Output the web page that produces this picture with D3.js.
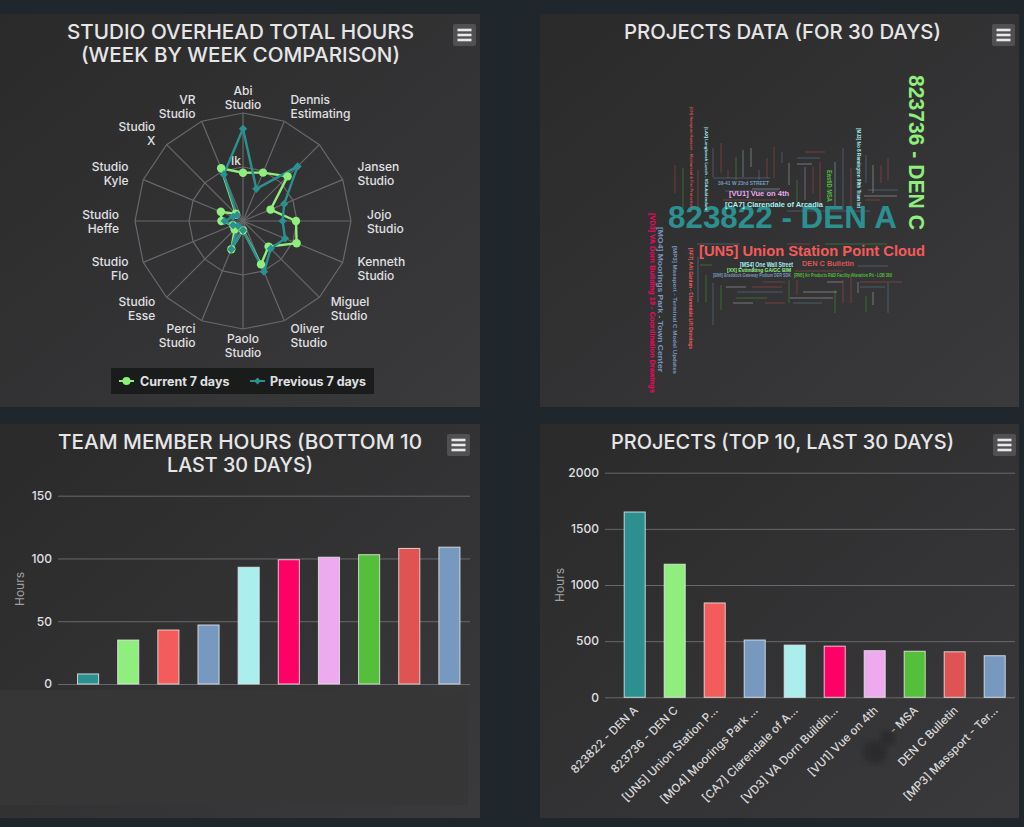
<!DOCTYPE html>
<html>
<head>
<meta charset="utf-8">
<script src="https://d3js.org/d3.v7.min.js"></script>
<style>
  html, body { margin: 0; padding: 0; background: #20272c; overflow: hidden; }
  svg { display: block; }
  text { font-family: Inter, "Open Sans", sans-serif; }
</style>
</head>
<body>
<svg id="chart" width="1024" height="827"></svg>
<script>
// radar chart data
const studios = [["Abi", "Studio"], ["Dennis", "Estimating"], ["", ""], ["Jansen", "Studio"], ["Jojo", "Studio"],
    ["Kenneth", "Studio"], ["Miguel", "Studio"], ["Oliver", "Studio"], ["Paolo", "Studio"], ["Perci", "Studio"],
    ["Studio", "Esse"], ["Studio", "Flo"], ["Studio", "Heffe"], ["Studio", "Kyle"], ["Studio", "X"], ["VR", "Studio"]];
const currentWeek = [894, 970, 1168, 552, 981, 1075, 670, 870, 170, 565, 220, 200, 400, 444, 190, 1058];
const previousWeek = [1708, 645, 1430, 825, 733, 843, 725, 1016, 170, 565, 130, 200, 340, 200, 155, 933];

// bar chart data
const palette = ["#2b908f", "#90ee7e", "#f45b5b", "#7798BF", "#aaeeee", "#ff0066", "#eeaaee", "#55BF3B", "#DF5353", "#7798BF"];
const memberHours = [8, 35, 43, 47, 93, 99, 101, 103, 108, 109];
const memberTicks = [0, 50, 100, 150];
const projectNames = ["823822 - DEN A", "823736 - DEN C", "[UN5] Union Station P…", "[MO4] Moorings Park …", "[CA7] Clarendale of A…",
    "[VD3] VA Dorn Buildin…", "[VU1] Vue on 4th", "- MSA", "DEN C Bulletin", "[MP3] Massport - Ter…"];
const projectHours = [1650, 1185, 840, 510, 465, 455, 415, 410, 405, 370];
const projectTicks = [0, 500, 1000, 1500, 2000];

// word cloud data
const cloudWords = ["823822 - DEN A", "823736 - DEN C", "[UN5] Union Station Point Cloud", "[VD3] VA Dorn Building 19 - Coordination Drawings",
    "[MO4] Moorings Park - Town Center", "[MP3] Massport - Terminal C Model Updates", "[AF7] AAI Garden - Clarendale Lift Drawings",
    "[VU1] Vue on 4th", "[CA7] Clarendale of Arcadia", "39-41 W 23rd STREET", "EastID MSA", "[MJ3] No 8 Remington 99th Tram Int",
    "[CH] Hampton Hanover - Mechanical & Fire Protection", "[LAX] Longbeach Lunch - VDA Addendum", "[MS4] One Wall Street", "DEN C Bulletin",
    "[XX] Estimating GA/GC BIM", "[BN6] Braddock Gateway Podium DER SDK", "[RN5] Air Products R&D Facility Alteration Pit - LOB 360"];
const cloudHours = [1650, 1185, 840, 330, 400, 220, 220, 370, 350, 220, 300, 170, 100, 140, 290, 400, 280, 170, 180];

// where each word of the cloud landed, and the words too small to read (x1, y1, x2, y2, colour)
const cloudPlaces = [[668, 228, 0, 229, 0], [909, 75, 90, 155, 1], [699, 256, 0, 226, 2], [650, 213, 90, 180, 5], [658, 227, 90, 145, 3],
    [673, 246, 90, 128, 3], [689, 248, 90, 101, 2], [729, 196, 0, 60, 6], [725, 207, 0, 98, 4], [718, 185, 0, 51, 3], [827, 170, 90, 32, 7],
    [857, 128, 90, 80, 4], [690, 107, 90, 101, 8], [705, 127, 90, 83, 4], [740, 267, 0, 53, 4], [802, 266, 0, 52, 8], [727, 272, 0, 64, 1],
    [713, 277, 0, 78, 3], [794, 277, 0, 98, 7]];
const cloudTiny = [[675, 165, 675, 193, 8], [683, 168, 683, 208, 7], [698, 170, 698, 210, 8], [713, 148, 713, 177, 3], [721, 143, 721, 173, 8],
    [728, 170, 728, 178, 8], [736, 157, 736, 180, 7], [743, 150, 743, 177, 4], [751, 148, 751, 167, 9], [759, 170, 759, 180, 3], [767, 158, 767, 178, 8],
    [774, 147, 774, 178, 8], [782, 152, 782, 163, 3], [789, 163, 789, 185, 9], [797, 180, 797, 202, 7], [805, 167, 805, 200, 6], [813, 167, 813, 193, 8],
    [820, 162, 820, 203, 8], [835, 162, 835, 207, 4], [843, 148, 843, 210, 3], [851, 168, 851, 210, 8], [866, 155, 866, 183, 3], [873, 165, 873, 193, 9],
    [881, 165, 881, 183, 8], [888, 158, 888, 180, 8], [805, 152, 825, 152, 8], [797, 158, 820, 158, 3], [797, 164, 812, 164, 9], [713, 178, 770, 178, 3],
    [752, 189, 780, 189, 9], [725, 191, 778, 191, 3], [723, 200, 778, 200, 8], [868, 190, 898, 190, 3], [864, 196, 897, 196, 9], [865, 200, 880, 200, 8],
    [787, 211, 870, 211, 3], [697, 244, 740, 244, 3], [787, 244, 810, 244, 8], [825, 244, 887, 244, 7], [700, 265, 712, 265, 7], [858, 266, 888, 266, 3],
    [795, 271, 843, 271, 8], [763, 282, 785, 282, 8], [827, 282, 843, 282, 9], [860, 282, 902, 282, 8], [726, 287, 746, 287, 9], [752, 287, 782, 287, 8],
    [860, 287, 885, 287, 3], [803, 292, 837, 292, 9], [737, 292, 783, 292, 3], [736, 298, 767, 298, 7], [790, 298, 833, 298, 9], [733, 303, 753, 303, 9],
    [765, 303, 785, 303, 8], [793, 303, 822, 303, 3], [698, 257, 698, 302, 3], [706, 275, 706, 302, 7], [713, 283, 713, 325, 3], [721, 285, 721, 310, 7],
    [789, 280, 789, 303, 7], [797, 280, 797, 295, 8], [835, 290, 835, 313, 7], [843, 280, 843, 303, 8], [851, 275, 851, 303, 8], [858, 282, 858, 293, 9],
    [866, 296, 866, 312, 7], [873, 292, 873, 305, 9], [888, 283, 888, 313, 3]];
const tinyColors = [...palette.slice(0, 9), "#e8e8e8"];

const labelFill = "#e0e0e3";
const gridColor = "#68686a";
const svg = d3.select("#chart");

// panel background gradient
const grad = svg.append("defs").append("linearGradient").attr("id", "panelBg")
    .attr("x1", 0).attr("y1", 0).attr("x2", 1).attr("y2", 1);
grad.append("stop").attr("offset", "0%").attr("stop-color", "#2a2a2b");
grad.append("stop").attr("offset", "100%").attr("stop-color", "#3a3a3c");
svg.select("defs").append("filter").attr("id", "blot").append("feGaussianBlur").attr("stdDeviation", 3);

// draw a panel with its title lines and menu button
function buildPanel(x, y, w, h, titleX, titleY, titles, widths, btnX, btnY) {
    svg.append("rect").attr("x", x).attr("y", y).attr("width", w).attr("height", h).attr("fill", "url(#panelBg)");
    titles.forEach((line, i) => {
        svg.append("text").attr("x", titleX).attr("y", titleY + i * 23)
            .attr("text-anchor", "middle").attr("font-size", 20).attr("font-weight", 500)
            .attr("textLength", widths[i]).attr("lengthAdjust", "spacingAndGlyphs")
            .attr("fill", "#e6e6e6").text(line);
    });
    svg.append("rect").attr("x", btnX).attr("y", btnY).attr("width", 23).attr("height", 22).attr("rx", 2).attr("fill", "#505053");
    [6, 11, 16].forEach(d => {
        svg.append("line").attr("x1", btnX + 4.5).attr("x2", btnX + 18.5).attr("y1", btnY + d).attr("y2", btnY + d)
            .attr("stroke", "#e8e8e8").attr("stroke-width", 2.6);
    });
}

buildPanel(0, 14, 480, 393, 240.5, 39, ["STUDIO OVERHEAD TOTAL HOURS", "(WEEK BY WEEK COMPARISON)"], [347, 319], 453, 24);
buildPanel(540, 14, 479, 393, 782.5, 39, ["PROJECTS DATA (FOR 30 DAYS)"], [317], 992, 24);
buildPanel(0, 424, 480, 394, 240, 449, ["TEAM MEMBER HOURS (BOTTOM 10", "LAST 30 DAYS)"], [364, 146], 447, 434);
buildPanel(540, 424, 479, 394, 782.5, 449, ["PROJECTS (TOP 10, LAST 30 DAYS)"], [343], 993, 434);

// patch that hides the names under the bottom left chart
svg.append("rect").attr("x", 0).attr("y", 690).attr("width", 468).attr("height", 115).attr("fill", "#363637");

// radar chart
function buildRadar(cx, cy) {
    const g = svg.append("g").attr("transform", `translate(${cx},${cy})`);
    const r = d3.scaleLinear().domain([0, 2000]).range([0, 108]);
    const angle = d3.scaleLinear().domain([0, studios.length]).range([0, 2 * Math.PI]);
    const radial = d3.lineRadial().radius(d => r(d)).angle((d, i) => angle(i)).curve(d3.curveLinearClosed);

    [1000, 2000].forEach(v => {
        g.append("path").attr("d", radial(studios.map(() => v))).attr("fill", "none").attr("stroke", gridColor).attr("stroke-width", 1.2);
    });
    studios.forEach((s, i) => {
        const a = angle(i);
        g.append("line").attr("x2", r(2000) * Math.sin(a)).attr("y2", -r(2000) * Math.cos(a))
            .attr("stroke", gridColor).attr("stroke-width", 1.2);
        // category labels sit just outside the outer ring
        const lx = (r(2000) + 16) * Math.sin(a);
        const ly = -(r(2000) + 16) * Math.cos(a);
        const anchor = Math.abs(Math.sin(a)) < 0.01 ? "middle" : (Math.sin(a) > 0 ? "start" : "end");
        const label = g.append("text").attr("text-anchor", anchor).attr("font-size", 12).attr("font-weight", 500).attr("fill", labelFill);
        s.forEach((line, k) => {
            label.append("tspan").attr("x", lx).attr("y", ly + (k === 0 ? -2.5 : 11.5)).text(line);
        });
    });

    g.append("text").attr("x", -8).attr("y", -r(1000) - 2).attr("text-anchor", "middle")
        .attr("font-size", 12).attr("font-weight", 500).attr("fill", labelFill).text("1k");
    g.append("text").attr("x", -7).attr("y", -2).attr("text-anchor", "middle")
        .attr("font-size", 12).attr("font-weight", 500).attr("fill", labelFill).text("0");

    g.append("path").attr("d", radial(currentWeek)).attr("fill", "none").attr("stroke", palette[1]).attr("stroke-width", 2.4);
    g.append("path").attr("d", radial(previousWeek)).attr("fill", "none").attr("stroke", palette[0]).attr("stroke-width", 2.4);

    currentWeek.forEach((v, i) => {
        const a = angle(i);
        g.append("circle").attr("cx", r(v) * Math.sin(a)).attr("cy", -r(v) * Math.cos(a)).attr("r", 4.2).attr("fill", palette[1]);
    });
    const diamond = d3.symbol().type(d3.symbolSquare).size(34);
    previousWeek.forEach((v, i) => {
        const a = angle(i);
        g.append("path").attr("d", diamond())
            .attr("transform", `translate(${r(v) * Math.sin(a)},${-r(v) * Math.cos(a)}) rotate(45)`)
            .attr("fill", palette[0]);
    });
}

buildRadar(243, 221);

// radar legend
const legend = svg.append("g");
legend.append("rect").attr("x", 111).attr("y", 368).attr("width", 263).attr("height", 26).attr("fill", "#1a1b1b");
[["Current 7 days", 119, 140, palette[1]], ["Previous 7 days", 250, 270, palette[0]]].forEach((item, i) => {
    legend.append("line").attr("x1", item[1]).attr("x2", item[1] + 15).attr("y1", 381).attr("y2", 381)
        .attr("stroke", item[3]).attr("stroke-width", 2);
    if (i === 0) {
        legend.append("circle").attr("cx", item[1] + 7.5).attr("cy", 381).attr("r", 4).attr("fill", item[3]);
    } else {
        legend.append("path").attr("d", d3.symbol().type(d3.symbolSquare).size(24)())
            .attr("transform", `translate(${item[1] + 7.5},381) rotate(45)`).attr("fill", item[3]);
    }
    legend.append("text").attr("x", item[2]).attr("y", 385.5).attr("font-size", 12.5).attr("font-weight", 700)
        .attr("fill", labelFill).text(item[0]);
});

// word cloud
function buildCloud() {
    const g = svg.append("g");
    const size = d3.scaleLinear().domain([100, 400, 840, 1185, 1650]).range([3.6, 8, 14.5, 22, 31]);
    cloudTiny.forEach(t => {
        g.append("line").attr("x1", t[0]).attr("y1", t[1]).attr("x2", t[2]).attr("y2", t[3])
            .attr("stroke", tinyColors[t[4]]).attr("stroke-width", 0.9).attr("opacity", 0.42);
    });
    cloudWords.forEach((word, i) => {
        const p = cloudPlaces[i];
        g.append("text").attr("transform", `translate(${p[0]},${p[1]}) rotate(${p[2]})`)
            .style("font-family", "'Liberation Sans', Arial, sans-serif")
            .attr("font-weight", 700).attr("font-size", size(cloudHours[i]))
            .attr("textLength", p[3]).attr("lengthAdjust", "spacingAndGlyphs")
            .attr("fill", palette[p[4]]).text(word);
    });
}

buildCloud();

// shared bar chart, gridlines come from the axis ticks
function buildBars(values, ticks, yMax, names, gridX0, gridX1, bandX0, bandX1, yTop, yBottom, titleX, titleY) {
    const x = d3.scaleBand().domain(d3.range(values.length)).range([bandX0, bandX1]).paddingInner(0.475).paddingOuter(0.2375);
    const y = d3.scaleLinear().domain([0, yMax]).range([yBottom, yTop]);

    const axis = svg.append("g").attr("transform", `translate(${gridX0},0)`)
        .call(d3.axisLeft(y).tickValues(ticks).tickFormat(d3.format("d")).tickSize(-(gridX1 - gridX0)).tickPadding(6));
    axis.select(".domain").remove();
    axis.selectAll(".tick line").attr("stroke", gridColor);
    axis.selectAll(".tick text").attr("fill", labelFill).attr("font-size", 12).attr("font-weight", 500)
        .style("font-family", "Inter, sans-serif");

    svg.append("text").attr("transform", `translate(${titleX},${titleY}) rotate(-90)`).attr("text-anchor", "middle")
        .attr("font-size", 12).attr("fill", "#a0a0a3").text("Hours");

    values.forEach((v, i) => {
        svg.append("rect").attr("x", x(i)).attr("y", y(v)).attr("width", x.bandwidth()).attr("height", yBottom - y(v))
            .attr("fill", palette[i]).attr("stroke", "#e8e8e8").attr("stroke-opacity", 0.85);
    });

    if (names) {
        names.forEach((name, i) => {
            svg.append("text").attr("transform", `translate(${x(i) + x.bandwidth() / 2 + 4},711) rotate(-45)`)
                .attr("text-anchor", "end").attr("font-size", 11.5).attr("font-weight", 500)
                .attr("fill", "#d8d8da").text(name);
        });
    }
}

buildBars(memberHours, memberTicks, 150, null, 58, 470, 68, 469.5, 495.7, 684, 24, 589);
buildBars(projectHours, projectTicks, 2000, projectNames, 605, 1015, 614.7, 1014.7, 472.7, 697.3, 564, 585);

// smudge left where one project name was rubbed out
[[875, 752, 12], [888, 738, 8]].forEach(b => {
    svg.append("circle").attr("cx", b[0]).attr("cy", b[1]).attr("r", b[2]).attr("fill", "#2c2c2d").attr("filter", "url(#blot)");
});
</script>
</body>
</html>
